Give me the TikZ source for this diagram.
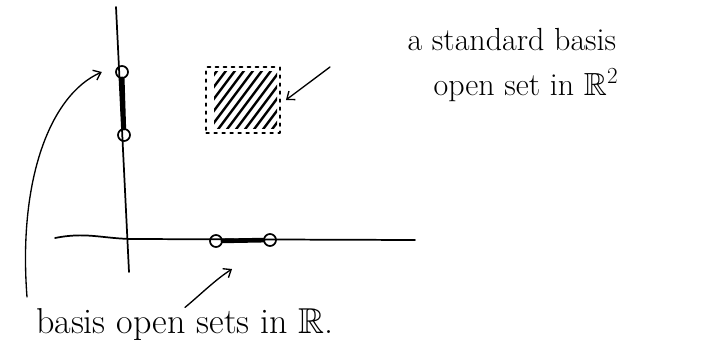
\documentclass[tikz,border=0pt]{standalone}
\usepackage{amssymb}
\usetikzlibrary{arrows.meta}

\begin{document}
\begin{tikzpicture}[
  x = 0.75pt,
  y = -0.75pt,
  line cap=round, line join=round,
  axis/.style   = {line width=1.3pt},
  endpt/.style  = {circle, draw, line width=1.3pt, minimum size=9pt, inner sep=0pt},
  interval/.style = {line width=3.5pt},
  hand/.style   = {font=\fontsize{24}{28}\selectfont, inner sep=1pt},
  arr/.style    = {-{Straight Barb[length=5pt,width=8pt]}, line width=1pt}
]
  \useasboundingbox (0,0) rectangle (728,353);

  % axes
  \draw[axis] (116,7) -- (129,272);
  \draw[axis] (55,238) .. controls (85,232) and (100,238) .. (130,239) -- (415,240);

  % open interval on the vertical axis
  \node[endpt] (vtop) at (122,72) {};
  \node[endpt] (vbot) at (124,135) {};
  \draw[interval] (vtop) -- (vbot);

  % open interval on the horizontal axis
  \node[endpt] (hl) at (216,241) {};
  \node[endpt] (hr) at (270,240) {};
  \draw[interval] (hl) -- (hr);

  % open square
  \node[draw, dash pattern=on 2pt off 4pt, line width=1.4pt,
        minimum width=55pt, minimum height=49pt] (sq) at (243,100) {};
  \begin{scope}
    \clip (214,72) rectangle (277,128);
    \foreach \s in {-80,-71,...,80}
      \draw[line width=1.8pt] (200+\s,140) -- (260+\s,60);
  \end{scope}

  % labels
  \node[hand, anchor=west] (r2a) at (406,40) {a standard basis};
  \node[hand, anchor=west] (r2b) at (432,85) {open set in $\mathbb{R}^2$};
  \node[hand, font=\fontsize{27}{30}\selectfont] (r1) at (185,325) {basis open sets in $\mathbb{R}$.};

  % arrows
  \coordinate (a1) at (330,67);
  \coordinate (a2) at (27,297);
  \coordinate (a3) at (232,269);
  \draw[arr] (a1) -- ([xshift=4pt]sq.east);
  \draw[arr] (a2) .. controls (18,180) and (50,95) .. ([xshift=-10pt]vtop.west);
  \draw[arr] (r1.north) .. controls (200,295) and (215,280) .. (a3);
\end{tikzpicture}
\end{document}
